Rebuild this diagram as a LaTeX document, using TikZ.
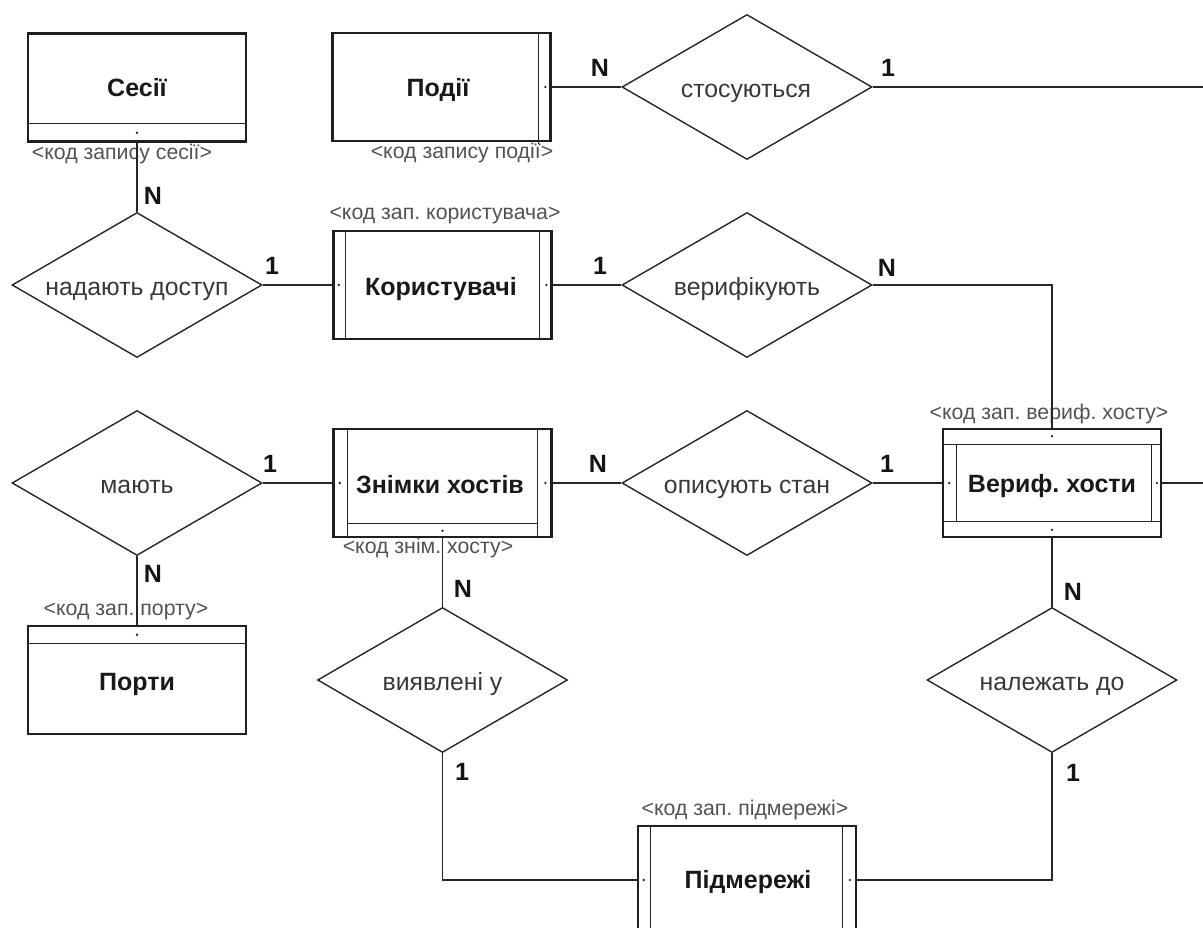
\documentclass[tikz,border=0pt]{standalone}
\usepackage{fontspec}
\setmainfont{Liberation Sans}
\usetikzlibrary{shapes.geometric,calc}
\frenchspacing

\newcommand{\erEntFont}{\fontsize{25}{29}\selectfont\bfseries}
\newcommand{\erRelFont}{\fontsize{24.8}{29}\selectfont}
\newcommand{\erKeyFont}{\fontsize{21.3}{25}\selectfont}
\newcommand{\erCardFont}{\fontsize{25}{29}\selectfont\bfseries}

\tikzset{
  ent/.style={draw=black!88, line width=2.6pt, rectangle, minimum width=218pt,
    minimum height=108pt, inner sep=0pt},
  enttext/.style={font=\erEntFont, text=black!90, inner sep=0pt, anchor=base},
  rel/.style={draw=black!85, line width=1.4pt, diamond, aspect=1.72,
    minimum width=250pt, minimum height=145pt, inner sep=0pt},
  reltext/.style={font=\erRelFont, text=black!78, inner sep=0pt, anchor=base},
  conn/.style={draw=black!85, line width=1.4pt},
  part/.style={draw=black!85, line width=1.2pt},
  card/.style={font=\erCardFont, text=black!92, inner sep=0pt, anchor=base},
  keytext/.style={font=\erKeyFont, text=black!68, inner sep=0pt, anchor=base},
  kdot/.style={fill=black!85},
}

\begin{document}
\begin{tikzpicture}[x=1pt, y=-1pt]
  \useasboundingbox (0,0) rectangle (1203,928);
  \clip (0,0) rectangle (1203,928);

  % ---------- entities ----------
  \node[ent] (ses) at (137,87.5) {};
  \node[enttext] (sesT) at (137,97) {Сесії};
  \node[ent] (pod) at (441.5,87) {};
  \node[enttext] (podT) at (438,97) {Події};
  \node[ent] (kor) at (442.5,285) {};
  \node[enttext] (korT) at (441,295) {Користувачі};
  \node[ent] (zn) at (442.5,483) {};
  \node[enttext] (znT) at (440,493) {Знімки хостів};
  \node[ent] (ver) at (1052,483) {};
  \node[enttext] (verT) at (1052,492) {Вериф. хости};
  \node[ent] (por) at (137,680) {};
  \node[enttext] (porT) at (137,690) {Порти};
  \node[ent] (pid) at (747,880) {};
  \node[enttext] (pidT) at (748,888) {Підмережі};

  % key compartments of the entities
  \draw[part] ([yshift=19pt]ses.south west) -- ([yshift=19pt]ses.south east);
  \fill[kdot] ([yshift=10pt]ses.south) circle (1.3pt);

  \draw[part] ([xshift=-13pt]pod.north east) -- ([xshift=-13pt,yshift=-2pt]pod.south east);
  \fill[kdot] ([xshift=-6.5pt]pod.east) circle (1.3pt);

  \draw[part] ([xshift=13pt]kor.north west) -- ([xshift=13pt]kor.south west);
  \draw[part] ([xshift=-13pt]kor.north east) -- ([xshift=-13pt]kor.south east);
  \fill[kdot] ([xshift=6.5pt]kor.west) circle (1.3pt);
  \fill[kdot] ([xshift=-6.5pt]kor.east) circle (1.3pt);

  \draw[part] ([xshift=15pt]zn.north west) -- ([xshift=15pt]zn.south west);
  \draw[part] ([xshift=-15pt]zn.north east) -- ([xshift=-15pt]zn.south east);
  \draw[part] ([xshift=15pt,yshift=15pt]zn.south west) -- ([xshift=-15pt,yshift=15pt]zn.south east);
  \fill[kdot] ([xshift=7.5pt]zn.west) circle (1.3pt);
  \fill[kdot] ([xshift=-7.5pt]zn.east) circle (1.3pt);
  \fill[kdot] ([yshift=7.5pt]zn.south) circle (1.3pt);

  \draw[part] ([yshift=-17pt]ver.north west) -- ([yshift=-17pt]ver.north east);
  \draw[part] ([yshift=17pt]ver.south west) -- ([yshift=17pt]ver.south east);
  \draw[part] ([xshift=15pt,yshift=-17pt]ver.north west) -- ([xshift=15pt,yshift=17pt]ver.south west);
  \draw[part] ([xshift=-11pt,yshift=-17pt]ver.north east) -- ([xshift=-11pt,yshift=17pt]ver.south east);
  \fill[kdot] ([yshift=-8.5pt]ver.north) circle (1.3pt);
  \fill[kdot] ([yshift=8.5pt]ver.south) circle (1.3pt);
  \fill[kdot] ([xshift=7.5pt]ver.west) circle (1.3pt);
  \fill[kdot] ([xshift=-5.5pt]ver.east) circle (1.3pt);

  \draw[part] ([yshift=-19pt]por.north west) -- ([yshift=-19pt]por.north east);
  \fill[kdot] ([yshift=-10pt]por.north) circle (1.3pt);

  \draw[part] ([xshift=14pt]pid.north west) -- ([xshift=14pt]pid.south west);
  \draw[part] ([xshift=-15pt]pid.north east) -- ([xshift=-15pt]pid.south east);
  \fill[kdot] ([xshift=7pt]pid.west) circle (1.3pt);
  \fill[kdot] ([xshift=-7.5pt]pid.east) circle (1.3pt);

  % key names
  \node[keytext] (sesK) at (122,160) {<код запису сесії>};
  \node[keytext] (podK) at (462,158.5) {<код запису події>};
  \node[keytext] (korK) at (445,220) {<код зап. користувача>};
  \node[keytext] (znK) at (428,553) {<код знім. хосту>};
  \node[keytext] (verK) at (1049,419) {<код зап. вериф. хосту>};
  \node[keytext] (porK) at (126,615) {<код зап. порту>};
  \node[keytext] (pidK) at (745,815) {<код зап. підмережі>};

  % ---------- relationships ----------
  \node[rel] (dSto) at (747,87) {};
  \node[reltext] (dStoT) at (746,97.5) {стосуються};
  \node[rel] (dNad) at (137,285) {};
  \node[reltext] (dNadT) at (137,295) {надають доступ};
  \node[rel] (dVer) at (747,285) {};
  \node[reltext] (dVerT) at (747,295) {верифікують};
  \node[rel] (dMau) at (137,483) {};
  \node[reltext] (dMauT) at (137,493) {мають};
  \node[rel] (dOpy) at (747,483) {};
  \node[reltext] (dOpyT) at (747,493) {описують стан};
  \node[rel] (dVyy) at (442.5,680) {};
  \node[reltext] (dVyyT) at (442.5,690) {виявлені у};
  \node[rel] (dNal) at (1052,680) {};
  \node[reltext] (dNalT) at (1052,690) {належать до};

  \coordinate (eastA) at (1203,87);
  \coordinate (eastB) at (1203,483);

  % ---------- connectors ----------
  \draw[conn] (pod.east) -- (dSto.west);
  \draw[conn] (dSto.east) -- (eastA);
  \draw[conn] (ses.south) -- (dNad.north);
  \draw[conn] (dNad.east) -- (kor.west);
  \draw[conn] (kor.east) -- (dVer.west);
  \draw[conn] (dVer.east) -| (ver.north);
  \draw[conn] (dMau.east) -- (zn.west);
  \draw[conn] (dMau.south) -- (por.north);
  \draw[conn] (zn.east) -- (dOpy.west);
  \draw[conn] (dOpy.east) -- (ver.west);
  \draw[conn] (ver.east) -- (eastB);
  \draw[conn] (zn.south) -- (dVyy.north);
  \draw[conn] (dVyy.south) |- (pid.west);
  \draw[conn] (ver.south) -- (dNal.north);
  \draw[conn] (dNal.south) |- (pid.east);

  % ---------- cardinalities ----------
  \node[card] (c1) at (600,77) {N};
  \node[card] (c2) at (888,77) {1};
  \node[card] (c3) at (153,205) {N};
  \node[card] (c4) at (272,275) {1};
  \node[card] (c5) at (600,275) {1};
  \node[card] (c6) at (887,277) {N};
  \node[card] (c7) at (270,472) {1};
  \node[card] (c8) at (153,582) {N};
  \node[card] (c9) at (598,472) {N};
  \node[card] (c10) at (887,472) {1};
  \node[card] (c11) at (463,597) {N};
  \node[card] (c12) at (462,780) {1};
  \node[card] (c13) at (1073,600) {N};
  \node[card] (c14) at (1073,781) {1};
\end{tikzpicture}
\end{document}
